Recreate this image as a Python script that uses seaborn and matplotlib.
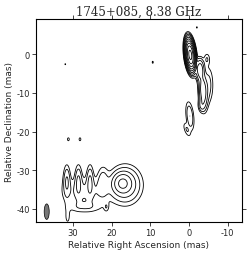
"""
plot.py — VLBI contour map of 1745+085 at 8.38 GHz.

The map is rebuilt from a handful of Gaussian components read off the
published image, then contoured with levels doubling from the lowest one.
"""

import numpy as np
import matplotlib
matplotlib.use("Agg")
import matplotlib.pyplot as plt
from matplotlib.patches import Ellipse
import seaborn as sns


# ─────────────────────────────────────────────
# Data (mas, relative to the core)
# ─────────────────────────────────────────────

# component centres
comp_ra = [-0.3, -2.8, -3.6, -5.0, -4.6, -3.2, -0.2, 0.6,
           17.2, 16.5, 31.6, 28.6, 25.6, 27.0, 27.0, 31.4, 22.3, 21.4,
           31.2, 28.2, -2.0, 9.4, 32.0]
comp_dec = [-0.2, -4.0, -9.5, -8.0, -1.3, -13.2, -16.0, -19.5,
            -33.4, -33.8, -32.8, -32.8, -32.8, -35.5, -39.5, -42.0, -33.0, -39.5,
            -22.0, -22.0, 6.9, -2.1, -2.6]
# peak brightness (fraction of core peak)
comp_peak = [1.0, 0.02, 0.02, 0.004, 0.003, 0.006, 0.006, 0.003,
             0.022, 0.01, 0.006, 0.006, 0.006, 0.0035, 0.0025, 0.002, 0.004, 0.0022,
             0.002, 0.002, 0.0018, 0.0019, 0.0017]
# gaussian widths (sigma, mas)
comp_sig_ra = [0.5, 0.6, 0.6, 0.8, 0.5, 0.5, 0.6, 0.5,
               1.3, 2.4, 0.55, 0.55, 0.55, 4.0, 3.0, 0.5, 0.9, 0.4,
               0.3, 0.3, 0.2, 0.2, 0.2]
comp_sig_dec = [1.67, 1.5, 2.5, 3.0, 1.0, 1.0, 2.2, 1.2,
                1.4, 2.8, 2.5, 2.5, 2.5, 2.5, 1.0, 1.5, 2.5, 0.8,
                0.5, 0.5, 0.3, 0.4, 0.3]
# shear of the major axis (dRA per dDec)
comp_tilt = [0.1, 0.0, 0.05, 0.0, 0.0, 0.0, 0.1, 0.3,
             0.0, 0.0, 0.0, 0.0, 0.0, 0.0, 0.0, 0.0, 0.0, 0.0,
             0.0, 0.0, 0.0, 0.0, 0.0]

lowest_level = 0.0015
n_levels = 11

beam_ra, beam_dec = 36.8, -40.7
beam_width, beam_height = 1.3, 4.0

x_ticks = [30, 20, 10, 0, -10]
y_ticks = [0, -10, -20, -30, -40]
title = "1745+085, 8.38 GHz"


# ─────────────────────────────────────────────
# Build the brightness map
# ─────────────────────────────────────────────

def build_map():
    ra = np.linspace(40, -14, 541)
    dec = np.linspace(-44, 10, 541)
    X, Y = np.meshgrid(ra, dec)
    img = np.zeros_like(X)
    for x0, y0, a, sx, sy, k in zip(comp_ra, comp_dec, comp_peak,
                                    comp_sig_ra, comp_sig_dec, comp_tilt):
        dx = X - x0 - k * (Y - y0)
        dy = Y - y0
        img += a * np.exp(-0.5 * ((dx / sx) ** 2 + (dy / sy) ** 2))
    return X, Y, img


# ─────────────────────────────────────────────
# Plot
# ─────────────────────────────────────────────

sns.set_style("ticks")
plt.rcParams["axes.unicode_minus"] = False
plt.rcParams["font.family"] = ["DejaVu Sans"]

fig = plt.figure(figsize=(2.5, 2.55), dpi=100)
ax = fig.add_axes([0.145, 0.124, 0.822, 0.799])

X, Y, img = build_map()
levels = [lowest_level * 2 ** k for k in range(n_levels)]
ax.contour(X, Y, img, levels=levels, colors="black", linewidths=0.6)

ax.add_patch(Ellipse((beam_ra, beam_dec), beam_width, beam_height,
                     facecolor="#777777", edgecolor="black", linewidth=0.5))

ax.set_xlim(39.5, -13.6)
ax.set_ylim(-43.4, 9.1)
ax.set_aspect("equal")
ax.set_xticks(x_ticks)
ax.set_yticks(y_ticks)
ax.tick_params(axis="both", which="both", direction="out", length=3,
               width=0.6, labelsize=6, pad=1.5,
               top=True, right=True, labeltop=False, labelright=False)
for spine in ax.spines.values():
    spine.set_linewidth(0.8)
    spine.set_color("black")

ax.set_xlabel("Relative Right Ascension (mas)", fontsize=6.5, labelpad=2)
ax.set_ylabel("Relative Declination (mas)", fontsize=6.5, labelpad=2)
ax.set_title(title, family="DejaVu Serif", fontsize=8.5, pad=3)

fig.savefig("out.png", dpi=100)
plt.close(fig)
